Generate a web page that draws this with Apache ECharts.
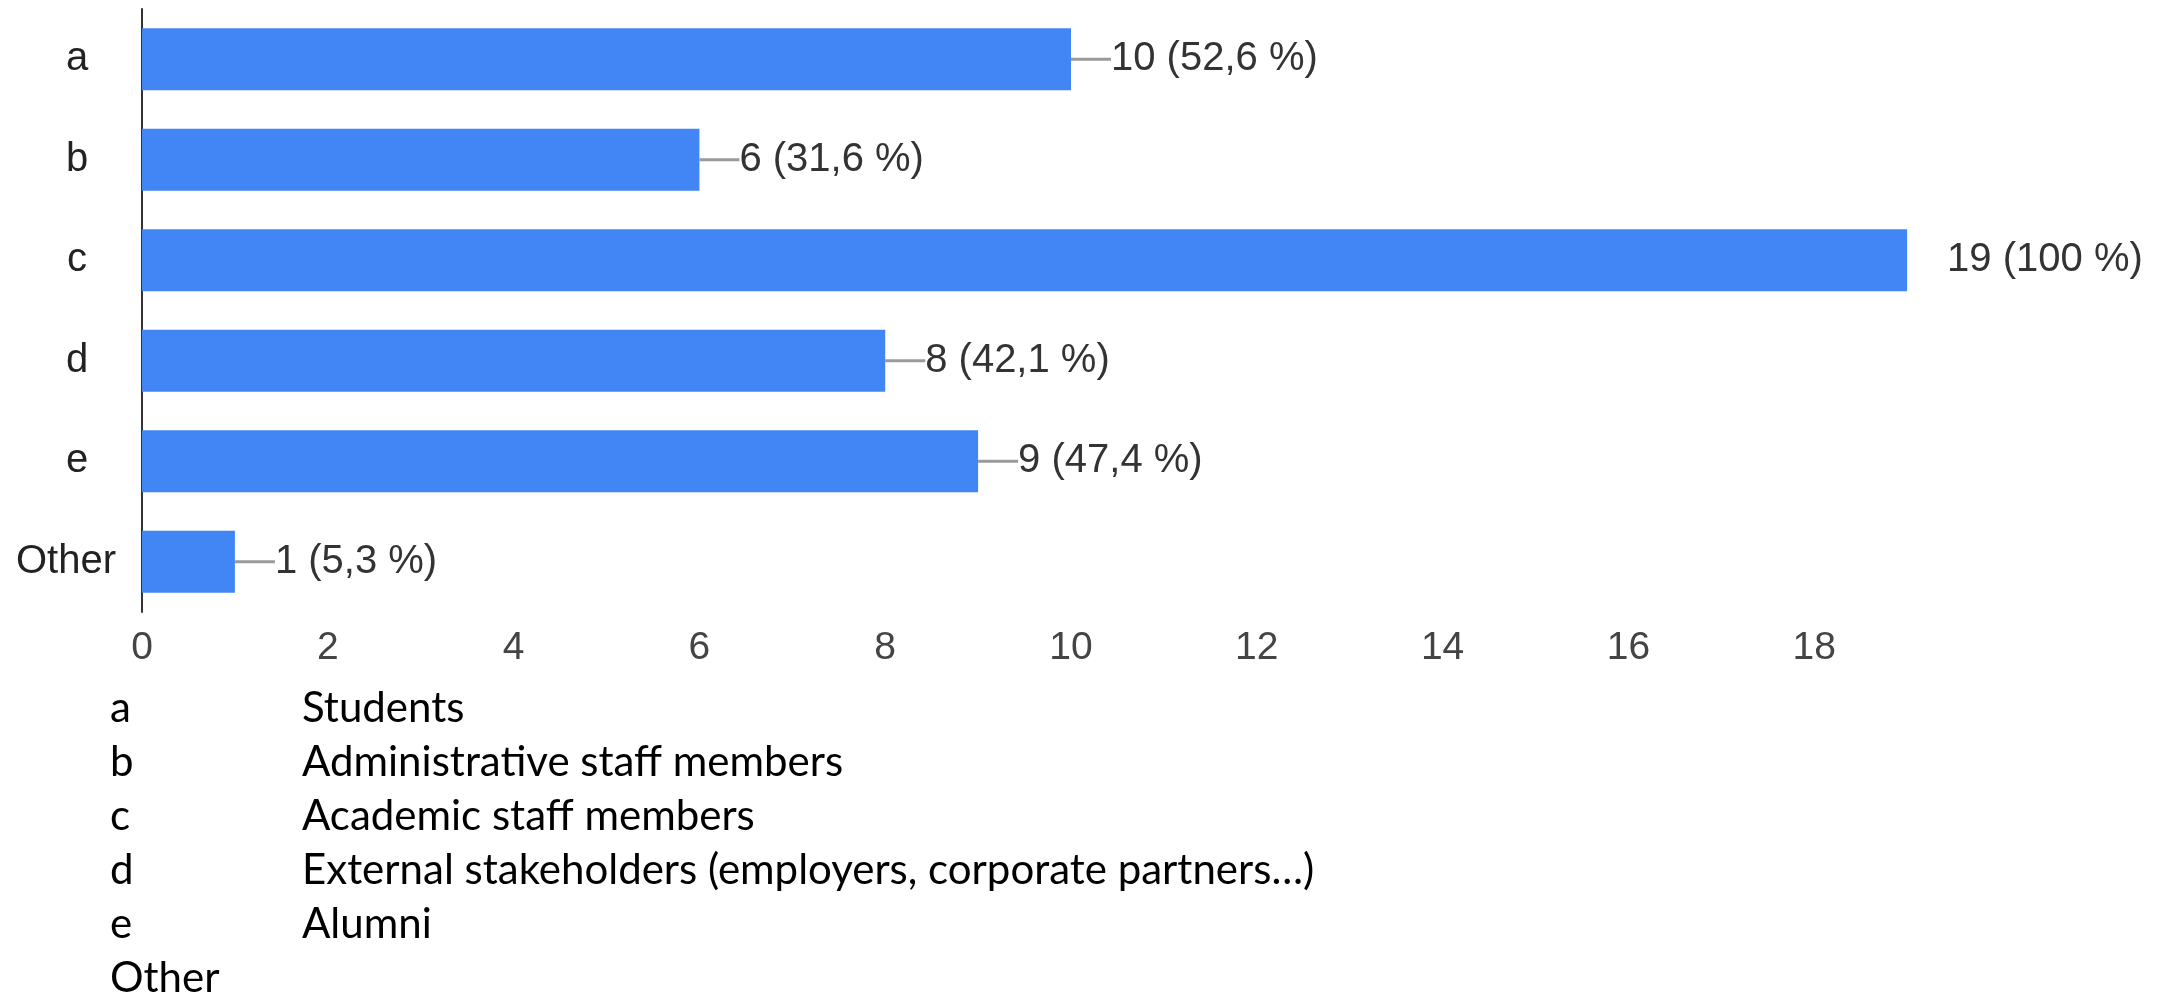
<!DOCTYPE html>
<html>
<head>
<meta charset="utf-8">
<script src="https://cdn.jsdelivr.net/npm/echarts@6/dist/echarts.min.js"></script>
<style>
  html, body { margin: 0; padding: 0; background: #ffffff; }
  #chart { width: 2167px; height: 993px; }
</style>
</head>
<body>
<div id="chart"></div>
<script>
// Survey answers: who took part (multiple choice, 19 respondents)
const categories = ['a', 'b', 'c', 'd', 'e', 'Other'];
const counts = [10, 6, 19, 8, 9, 1];
const percents = [52.6, 31.6, 100, 42.1, 47.4, 5.3];
const xTicks = [0, 2, 4, 6, 8, 10, 12, 14, 16, 18];

// Key printed under the chart
const keyLetters = ['a', 'b', 'c', 'd', 'e', 'Other'];
const keyNames = [
  'Students',
  'Administrative staff members',
  'Academic staff members',
  'External stakeholders (employers, corporate partners\u2026)',
  'Alumni',
  ''
];

const chart = echarts.init(document.getElementById('chart'), null, { renderer: 'canvas' });

const maxCount = Math.max(...counts);
const fmtPct = p => String(p).replace('.', ',');
const sans = 'Liberation Sans, Arial, sans-serif';

// key rows: letter column and description column, one row every 54px
const keyGraphics = [];
keyLetters.forEach((k, i) => {
  const top = 687 + 54 * i;
  keyGraphics.push({
    type: 'text', left: 110, top: top,
    style: { text: k, font: '42px Lato', fill: '#000', verticalAlign: 'top' }
  });
  if (keyNames[i]) {
    keyGraphics.push({
      type: 'text', left: 302, top: top,
      style: { text: keyNames[i], font: '42px Lato', fill: '#000', verticalAlign: 'top' }
    });
  }
});

chart.setOption({
  animation: false,
  backgroundColor: '#ffffff',
  grid: { left: 142, right: 167, top: 9, height: 603, containLabel: false },
  xAxis: {
    type: 'value',
    min: 0,
    max: 20,
    interval: 2,
    axisLine: { show: false },
    axisTick: { show: false },
    splitLine: { show: false },
    axisLabel: {
      customValues: xTicks,
      margin: 17,
      fontFamily: sans,
      fontSize: 39,
      color: '#444'
    }
  },
  yAxis: {
    type: 'category',
    inverse: true,
    data: categories,
    axisLine: { show: true, lineStyle: { color: '#333', width: 2 } },
    axisTick: { show: false },
    axisLabel: {
      margin: 65,
      align: 'center',
      fontFamily: sans,
      fontSize: 40,
      color: '#222',
      formatter: v => v === 'Other' ? '{o|' + v + '}' : v,
      rich: {
        o: { fontFamily: sans, fontSize: 40, color: '#222', padding: [0, 22, 0, 0] }
      }
    }
  },
  series: [{
    type: 'bar',
    data: counts,
    barWidth: 62,
    itemStyle: { color: '#4285f4' },
    label: {
      show: true,
      position: 'right',
      distance: 0,
      formatter: p => {
        const lead = p.value === maxCount ? 'g' : 'l';
        return '{' + lead + '| }{v|' + p.value + ' (' + fmtPct(percents[p.dataIndex]) + ' %)}';
      },
      rich: {
        l: { width: 40, height: 3, backgroundColor: '#9a9a9a', fontSize: 2 },
        g: { width: 40, height: 3, fontSize: 2 },
        v: { fontFamily: sans, fontSize: 40, color: '#333' }
      }
    }
  }],
  graphic: keyGraphics
});
</script>
</body>
</html>
